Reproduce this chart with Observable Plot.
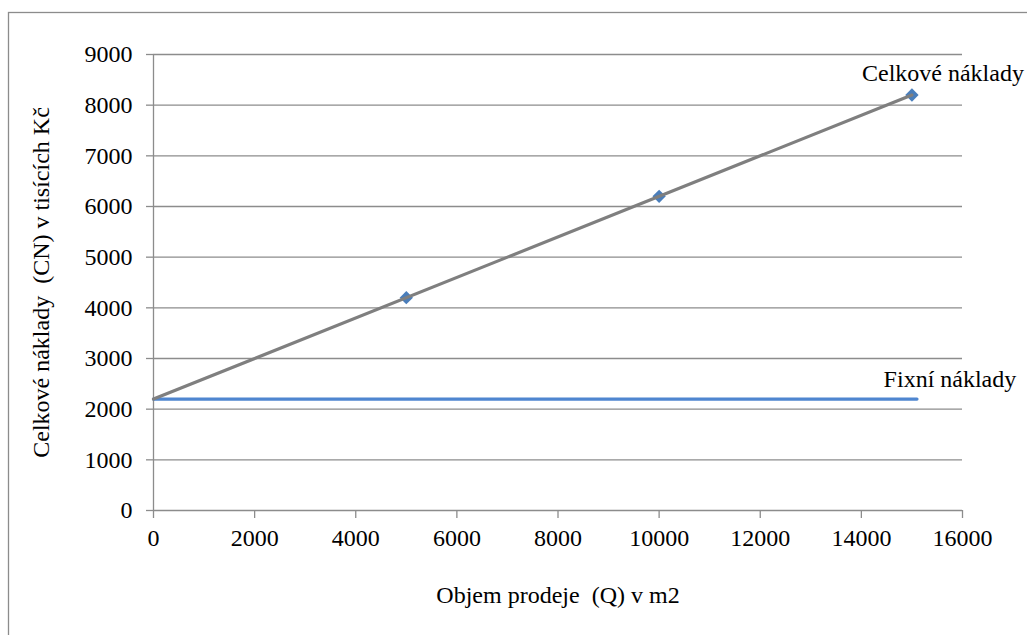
<!DOCTYPE html>
<html>
<head>
<meta charset="utf-8">
<script src="https://cdn.jsdelivr.net/npm/d3@7"></script>
<script src="https://cdn.jsdelivr.net/npm/@observablehq/plot@0.6"></script>
<style>
  html, body { margin: 0; padding: 0; background: #fff; overflow: hidden; }
  #chart svg { display: block; }
  #chart svg, #chart svg text { font-family: "Liberation Serif", "Times New Roman", serif !important; }
</style>
</head>
<body>
<div id="chart"></div>
<script>
// Sales volume (m2) and total costs (thousand CZK) at observed points
const volume = [5000, 10000, 15000];
const totalCost = [4200, 6200, 8200];

// Linear total-cost line, starting at the fixed-cost level
const trendVolume = [0, 15000];
const trendCost = [2200, 8200];

// Fixed costs
const fixedVolume = [0, 15100];
const fixedCost = [2200, 2200];

// Axis ticks
const xTicks = [0, 2000, 4000, 6000, 8000, 10000, 12000, 14000, 16000];
const yTicks = [0, 1000, 2000, 3000, 4000, 5000, 6000, 7000, 8000, 9000];

// Series labels
const seriesLabels = ["Celkové náklady", "Fixní náklady"];

const points = volume.map((q, i) => ({q, c: totalCost[i]}));
const trend = trendVolume.map((q, i) => ({q, c: trendCost[i]}));
const fixed = fixedVolume.map((q, i) => ({q, c: fixedCost[i]}));

const gridColor = "#8c8c8c";
const fs = 24;

const chart = Plot.plot({
  width: 1027,
  height: 635,
  marginLeft: 153,
  marginRight: 65,
  marginTop: 54,
  marginBottom: 125,
  style: {fontSize: fs + "px", color: "#000", background: "#fff"},
  x: {domain: [0, 16000]},
  y: {domain: [0, 9000]},
  marks: [
    Plot.gridY(yTicks, {stroke: gridColor, strokeOpacity: 1, strokeWidth: 1.3}),
    Plot.ruleX([0], {y1: 0, y2: 9000, stroke: gridColor, strokeWidth: 1.3}),
    Plot.axisY(yTicks, {
      tickSize: 7, tickPadding: 14, stroke: gridColor, strokeWidth: 1.3,
      tickFormat: d => String(d),
      label: "Celkové náklady  (CN) v tisících Kč",
      labelAnchor: "center", labelArrow: "none", labelOffset: 122,
      fontSize: fs
    }),
    Plot.axisX(xTicks, {
      tickSize: 8, tickPadding: 10, stroke: gridColor, strokeWidth: 1.3,
      tickFormat: d => String(d),
      label: "Objem prodeje  (Q) v m2",
      labelAnchor: "center", labelArrow: "none", labelOffset: 92,
      fontSize: fs
    }),
    Plot.line(fixed, {x: "q", y: "c", stroke: "#4f86d0", strokeWidth: 3.2}),
    Plot.dot(points, {x: "q", y: "c", symbol: "diamond2", r: 6, fill: "#4a7ebb", stroke: "none"}),
    Plot.line(trend, {x: "q", y: "c", stroke: "#7f7f7f", strokeWidth: 3.2}),
    Plot.text([{q: 15000, c: 8200, t: seriesLabels[0]}], {
      x: "q", y: "c", text: "t", dx: 31, dy: -22, fontSize: fs, fill: "#000"
    }),
    Plot.text([{q: 15000, c: 2200, t: seriesLabels[1]}], {
      x: "q", y: "c", text: "t", dx: 38, dy: -20, fontSize: fs, fill: "#000"
    })
  ]
});

// Outer chart border
d3.select(chart).insert("rect", ":first-child")
  .attr("x", 8.5).attr("y", 12.5)
  .attr("width", 1100).attr("height", 700)
  .attr("fill", "none").attr("stroke", "#8c8c8c").attr("stroke-width", 1.3);

document.getElementById("chart").appendChild(chart);
</script>
</body>
</html>
